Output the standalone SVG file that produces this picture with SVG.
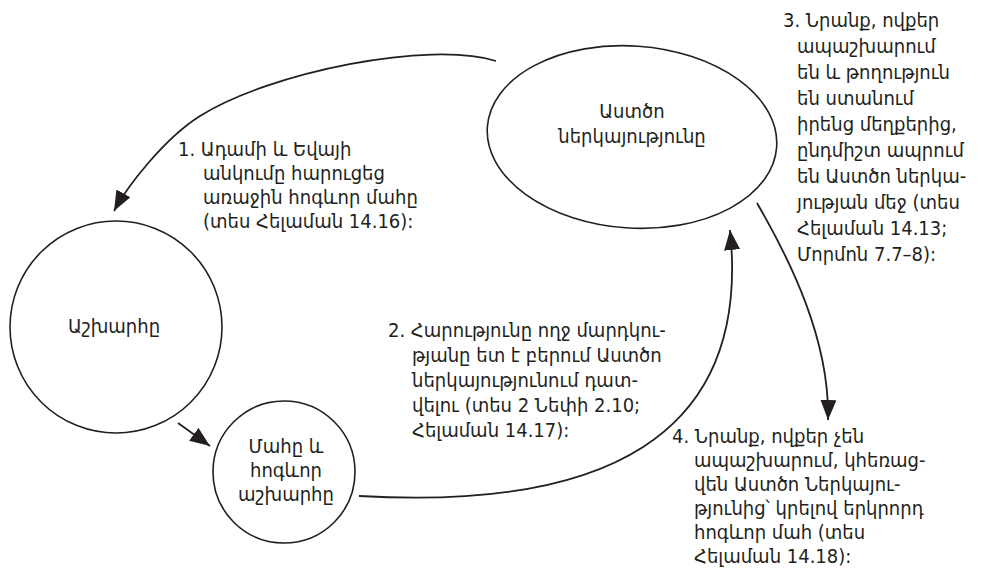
<svg xmlns="http://www.w3.org/2000/svg" width="983" height="570" viewBox="0 0 983 570">
<style>
.node{fill:none;stroke:#231f20;stroke-width:1.6}
.conn{fill:none;stroke:#231f20;stroke-width:1.8}
.t{font-family:"DejaVu Sans Condensed","DejaVu Sans",sans-serif;font-size:20px;fill:#231f20}
.lbl{font-family:"DejaVu Sans Condensed","DejaVu Sans",sans-serif;font-size:20px;fill:#231f20;text-anchor:middle}
</style>
<defs>
<marker id="ah" markerUnits="userSpaceOnUse" markerWidth="22" markerHeight="18" refX="20" refY="8" orient="auto"><path d="M0,0 L20,8 L0,16 z" fill="#231f20"/></marker>
</defs>
<rect width="983" height="570" fill="#fff"/>
<g id="node-presence">
<ellipse class="node" cx="632" cy="137" rx="145" ry="91" transform="rotate(4 632 137)"/>
<text class="lbl"><tspan x="632" y="118">Աստծո</tspan><tspan x="632" y="143">ներկայությունը</tspan></text>
</g>
<g id="node-world">
<circle class="node" cx="116" cy="327" r="106"/>
<text class="lbl" x="114" y="333">Աշխարհը</text>
</g>
<g id="node-death">
<circle class="node" cx="284" cy="472" r="71"/>
<text class="lbl"><tspan x="286" y="453">Մահը և</tspan><tspan x="286" y="477">հոգևոր</tspan><tspan x="286" y="501">աշխարհը</tspan></text>
</g>
<g id="connectors">
<path class="conn" d="M496,61 C430,40 270,72 200,116 C165,138 128,185 114,211" marker-end="url(#ah)"/>
<path class="conn" d="M359,496 C600,510 752,440 730,230" marker-end="url(#ah)"/>
<path class="conn" d="M757,203 C790,260 830,340 828,420" marker-end="url(#ah)"/>
<path class="conn" d="M178,423 L210,446" marker-end="url(#ah)"/>
</g>
<g id="notes">
<text class="t"><tspan x="178" y="156">1. Ադամի և Եվայի</tspan><tspan x="203" y="180">անկումը հարուցեց</tspan><tspan x="203" y="204">առաջին հոգևոր մահը</tspan><tspan x="203" y="228">(տես Հելաման 14.16):</tspan></text>
<text class="t"><tspan x="388" y="337">2. Հարությունը ողջ մարդկու-</tspan><tspan x="412" y="362">թյանը ետ է բերում Աստծո</tspan><tspan x="412" y="387">ներկայությունում դատ-</tspan><tspan x="412" y="412">վելու (տես 2 Նեփի 2.10;</tspan><tspan x="412" y="437">Հելաման 14.17):</tspan></text>
<text class="t"><tspan x="783" y="27">3. Նրանք, ովքեր</tspan><tspan x="797" y="53">ապաշխարում</tspan><tspan x="797" y="79">են և թողություն</tspan><tspan x="797" y="105">են ստանում</tspan><tspan x="797" y="131">իրենց մեղքերից,</tspan><tspan x="797" y="157">ընդմիշտ ապրում</tspan><tspan x="797" y="183">են Աստծո ներկա-</tspan><tspan x="797" y="209">յության մեջ (տես</tspan><tspan x="797" y="235">Հելաման 14.13;</tspan><tspan x="797" y="261">Մորմոն 7.7–8):</tspan></text>
<text class="t"><tspan x="672" y="443">4. Նրանք, ովքեր չեն</tspan><tspan x="694" y="467">ապաշխարում, կհեռաց-</tspan><tspan x="694" y="491">վեն Աստծո Ներկայու-</tspan><tspan x="694" y="515">թյունից՝ կրելով երկրորդ</tspan><tspan x="694" y="539">հոգևոր մահ (տես</tspan><tspan x="694" y="563">Հելաման 14.18):</tspan></text>
</g>
</svg>
